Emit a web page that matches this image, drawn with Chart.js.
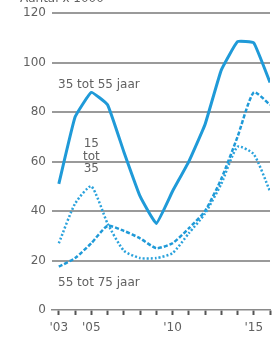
<!DOCTYPE html>
<html>
<head>
<meta charset="utf-8">
<script src="https://cdn.jsdelivr.net/npm/chart.js@4"></script>
<style>
  html, body { margin: 0; padding: 0; background: #fff; }
  #wrap { width: 276px; height: 339px; position: relative; }
</style>
</head>
<body>
<div id="wrap"><canvas id="lineChart"></canvas></div>
<script>
// jaren en waarden (aantal x 1000)
const years = [2003, 2004, 2005, 2006, 2007, 2008, 2009, 2010, 2011, 2012, 2013, 2014, 2015, 2016];
const age35to55 = [51, 78, 88, 83, 64, 46, 35, 48, 60, 75, 97, 108.5, 108, 92];
const age15to35 = [27, 43, 50, 35, 24, 21, 21, 23, 31, 39, 51, 66, 63, 48];
const age55to75 = [17.5, 21, 27, 34, 32, 29, 25, 27, 33, 40, 53, 70, 88, 83];
const yTicks = [0, 20, 40, 60, 80, 100, 120];
const xLabels = { 2003: "'03", 2005: "'05", 2010: "'10", 2015: "'15" };

const blue = '#1f9ad8';
const grey = '#616161';
const font = { family: 'DejaVu Sans, sans-serif', size: 12 };

function pts(vals) {
    return years.map((y, i) => ({ x: y, y: vals[i] }));
}

// teksten in de grafiek (positie in data-eenheden)
const labelsPlugin = {
    id: 'seriesLabels',
    afterDraw(chart) {
        const ctx = chart.ctx;
        const xs = chart.scales.x;
        const ys = chart.scales.y;
        ctx.save();
        ctx.fillStyle = grey;
        ctx.font = font.size + 'px ' + font.family;
        ctx.textBaseline = 'middle';
        ctx.textAlign = 'left';
        ctx.fillText('35 tot 55 jaar', xs.getPixelForValue(2002.95), ys.getPixelForValue(91));
        ctx.fillText('55 tot 75 jaar', xs.getPixelForValue(2002.95), ys.getPixelForValue(11));
        ctx.textAlign = 'center';
        ctx.fillText('15', xs.getPixelForValue(2005), ys.getPixelForValue(67));
        ctx.fillText('tot', xs.getPixelForValue(2005), ys.getPixelForValue(62.1));
        ctx.fillText('35', xs.getPixelForValue(2005), ys.getPixelForValue(57.2));
        // titel, bovenkant valt buiten beeld
        ctx.textAlign = 'left';
        ctx.textBaseline = 'alphabetic';
        ctx.fillText('Aantal x 1000', 20, 2);
        ctx.restore();
    }
};

new Chart(document.getElementById('lineChart'), {
    type: 'line',
    data: {
        datasets: [
            {
                label: '35 tot 55 jaar',
                data: pts(age35to55),
                borderColor: blue,
                borderWidth: 3,
                tension: 0.1,
                pointRadius: 0
            },
            {
                label: '15 tot 35',
                data: pts(age15to35),
                borderColor: '#2aa2dc',
                borderWidth: 2.5,
                borderDash: [2, 2],
                tension: 0.2,
                pointRadius: 0
            },
            {
                label: '55 tot 75 jaar',
                data: pts(age55to75),
                borderColor: blue,
                borderWidth: 2.5,
                borderDash: [4, 2],
                tension: 0.2,
                pointRadius: 0
            }
        ]
    },
    options: {
        responsive: true,
        maintainAspectRatio: false,
        animation: false,
        layout: { padding: { top: 10, right: 0, left: 0, bottom: 0 } },
        plugins: { legend: { display: false }, tooltip: { enabled: false } },
        scales: {
            x: {
                type: 'linear',
                min: 2002.58,
                max: 2016,
                afterFit(scale) { scale.height = 29; },
                afterBuildTicks(scale) {
                    scale.ticks = years.map(v => ({ value: v }));
                },
                border: { display: true, color: '#8a8a8a', width: 1.5 },
                grid: {
                    drawOnChartArea: false,
                    drawTicks: true,
                    tickLength: 5,
                    tickColor: '#555',
                    tickWidth: 2
                },
                ticks: {
                    autoSkip: false,
                    maxRotation: 0,
                    padding: 6,
                    color: grey,
                    font: font,
                    callback: v => xLabels[v] || ''
                }
            },
            y: {
                min: 0,
                max: 120,
                afterFit(scale) { scale.width = 52; },
                afterBuildTicks(scale) {
                    scale.ticks = yTicks.map(v => ({ value: v }));
                },
                border: { display: false },
                grid: {
                    drawTicks: false,
                    color: ctx => ctx.tick && ctx.tick.value === 0 ? 'rgba(0,0,0,0)' : '#9a9a9a',
                    lineWidth: 2
                },
                ticks: {
                    padding: 6,
                    color: grey,
                    font: font
                }
            }
        }
    },
    plugins: [labelsPlugin]
});
</script>
</body>
</html>
